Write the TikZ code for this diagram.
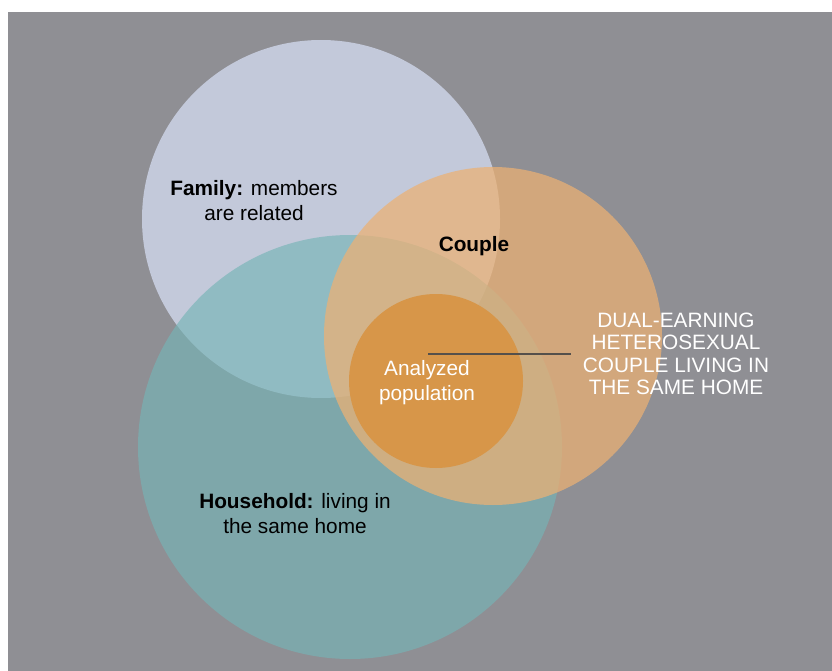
\documentclass[tikz,border=0pt]{standalone}
\usepackage{fontspec}
\setmainfont{Liberation Sans}
\definecolor{bggray}{RGB}{143,143,148}
\definecolor{famcol}{RGB}{195,201,218}
\definecolor{housecol}{RGB}{118,180,182}
\definecolor{couplecol}{RGB}{236,177,116}
\definecolor{anacol}{RGB}{215,150,73}
\definecolor{linecol}{RGB}{85,80,75}
\tikzset{
  setcircle/.style={circle, draw=none, inner sep=0pt, minimum size=#1},
  lbl/.style={font=\fontsize{20.8}{25}\selectfont, align=center, inner sep=0pt},
  whitelbl/.style={lbl, text=white},
}
\begin{document}
\begin{tikzpicture}[x=1pt,y=-1pt]
\useasboundingbox (0,0) rectangle (832,671);
\fill[white] (0,0) rectangle (832,671);
\fill[bggray] (8,12) rectangle (832,671);
% circles
\node[setcircle=358pt, fill=famcol] (family) at (321,219) {};
\node[setcircle=424pt, fill=housecol, fill opacity=0.65] (household) at (350,447) {};
\node[setcircle=338pt, fill=couplecol, fill opacity=0.73] (couple) at (493,336) {};
\node[setcircle=174pt, fill=anacol] (analyzed) at (436,381) {};
% labels
\node[lbl] (famtxt) at (254,201) {\textbf{Family:} members\\are related};
\node[lbl, font=\fontsize{20.8}{25}\selectfont\bfseries] (coupletxt) at (474,246) {Couple};
\node[whitelbl] (anatxt) at (427,383) {Analyzed\\population};
\node[whitelbl, font=\fontsize{20.8}{22.5}\selectfont] (dual) at (676,354) {DUAL-EARNING\\HETEROSEXUAL\\COUPLE LIVING IN\\THE SAME HOME};
\node[lbl] (housetxt) at (295,514) {\textbf{Household:} living in\\the same home};
% connector
\coordinate (lstart) at (428,354);
\draw[linecol, line width=1.6pt, shorten >=12pt] (lstart) -- (lstart -| dual.west);
\end{tikzpicture}
\end{document}
